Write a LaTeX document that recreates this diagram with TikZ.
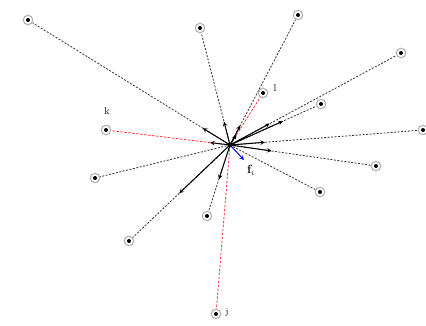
\documentclass[tikz,border=0pt]{standalone}
\usetikzlibrary{calc}
\begin{document}
\begin{tikzpicture}[x=1pt,y=-1pt,
    nb/.style={circle,draw=gray!60,line width=1.1pt,fill=white,inner sep=0pt,minimum size=9.5pt},
    link/.style={dash pattern=on 2pt off 1.5pt,gray!40!black,line width=0.8pt},
    rlink/.style={dash pattern=on 2.5pt off 1.5pt,red!80,line width=0.8pt},
    force/.style={->,>=stealth,black,line width=1pt},
    lab/.style={inner sep=1pt}]
  \useasboundingbox (0,0) rectangle (426,326);
  % particle i and its neighbours
  \coordinate (i) at (230,145);
  \node[nb] (n1) at (28,20) {};
  \node[nb] (n2) at (200,28) {};
  \node[nb] (n3) at (298,15) {};
  \node[nb] (n4) at (401,53) {};
  \node[nb] (l) at (263,93) {};
  \node[nb] (n6) at (321,104) {};
  \node[nb] (n7) at (423,130) {};
  \node[nb] (k) at (106,130) {};
  \node[nb] (n9) at (376,166) {};
  \node[nb] (n10) at (95,178) {};
  \node[nb] (n11) at (320,192) {};
  \node[nb] (n12) at (207,216) {};
  \node[nb] (n13) at (129,241) {};
  \node[nb] (j) at (216,314) {};
  \foreach \n in {n1,n2,n3,n4,l,n6,n7,k,n9,n10,n11,n12,n13,j}
    \fill (\n.center) circle (2pt);
  % pair lines
  \foreach \n in {n1,n2,n3,n4,n6,n7,n9,n10,n11,n12,n13}
    \draw[link] (i) -- (\n);
  \foreach \n in {j,k,l}
    \draw[rlink] (i) -- (\n);
  % pair forces on i
  \draw[force] (i) -- ($(i)!32pt!(n1)$);
  \draw[force] (i) -- ($(i)!24pt!(n2)$);
  \draw[force] (i) -- ($(i)!22pt!(n3)$);
  \draw[force] (i) -- ($(i)!45pt!(n4)$);
  \draw[force] (i) -- ($(i)!58pt!(n6)$);
  \draw[force] (i) -- ($(i)!35pt!(n7)$);
  \draw[force] (i) -- ($(i)!42pt!(n9)$);
  \draw[force] (i) -- ($(i)!20pt!(k)$);
  \draw[force] (i) -- ($(i)!36pt!(n12)$);
  \draw[force] (i) -- ($(i)!70pt!(n13)$);
  \draw[force] (i) -- ($(i)!12pt!(l)$);
  % resulting force
  \coordinate (fi) at (244,160);
  \draw[force,blue] (i) -- (fi);
  \fill (i) circle (2.5pt);
  % labels
  \node[lab] at (107,111) {k};
  \node[lab] at (275,88) {l};
  \node[lab,font=\small] at (227,312) {j};
  \node[lab,font=\large] at (251,170) {$\mathbf{f}_i$};
\end{tikzpicture}
\end{document}
